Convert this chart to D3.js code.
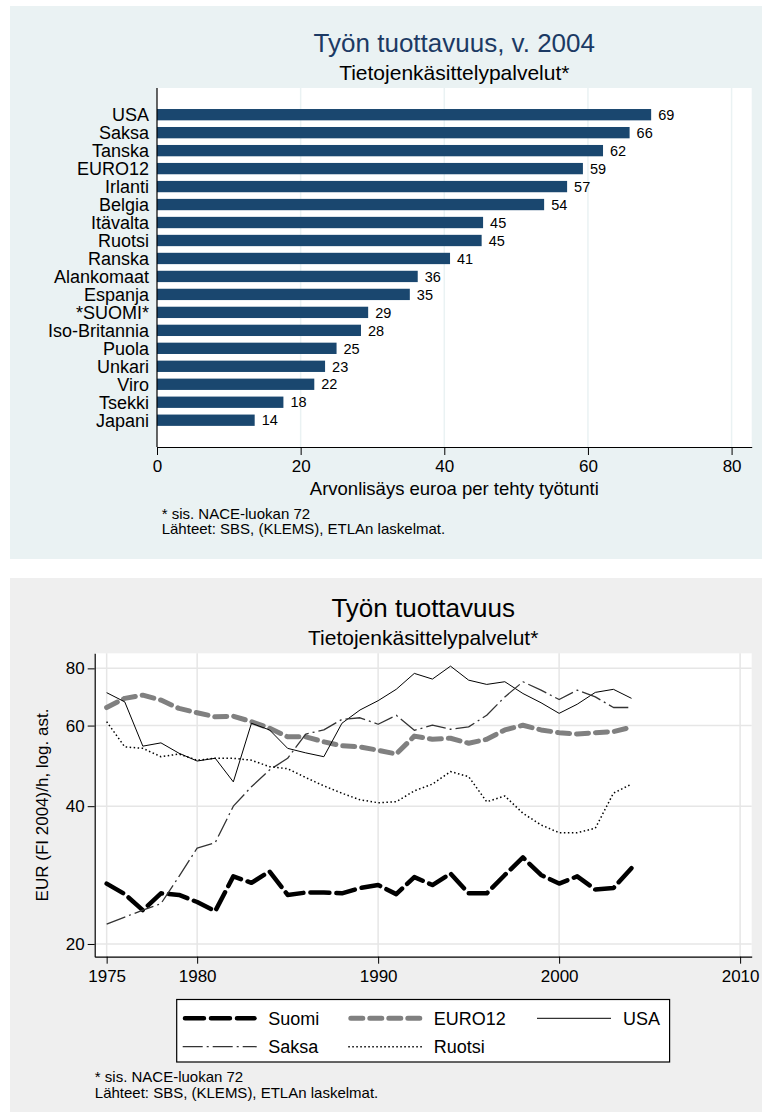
<!doctype html>
<html>
<head>
<meta charset="utf-8">
<style>
    body { margin: 0; background: #fff; }
    svg { font-family: "Liberation Sans", Arial, sans-serif; display: block; }
</style>
<script src="https://d3js.org/d3.v7.min.js"></script>
</head>
<body>
<svg width="762" height="1119"></svg>

<script>
    // --- data: top chart (2004) ---
    var countries = ["USA", "Saksa", "Tanska", "EURO12", "Irlanti", "Belgia", "Itävalta", "Ruotsi", "Ranska",
                     "Alankomaat", "Espanja", "*SUOMI*", "Iso-Britannia", "Puola", "Unkari", "Viro", "Tsekki", "Japani"];
    var values = [68.8, 65.8, 62.1, 59.3, 57.1, 53.9, 45.4, 45.2, 40.8,
                  36.3, 35.2, 29.4, 28.4, 25.0, 23.4, 21.9, 17.6, 13.6];
    var xTicksTop = [0, 20, 40, 60, 80];

    // --- data: bottom chart (time series) ---
    var years = [1975, 1976, 1977, 1978, 1979, 1980, 1981, 1982, 1983, 1984,
                 1985, 1986, 1987, 1988, 1989, 1990, 1991, 1992, 1993, 1994,
                 1995, 1996, 1997, 1998, 1999, 2000, 2001, 2002, 2003, 2004];
    var suomi  = [27.1, 25.7, 23.7, 25.8, 25.6, 24.7, 23.6, 28.1, 27.2, 28.8,
                  25.6, 25.9, 25.9, 25.8, 26.5, 26.9, 25.7, 28.0, 26.9, 28.5,
                  25.8, 25.8, 28.3, 30.9, 28.3, 27.1, 28.1, 26.3, 26.5, 29.3];
    var euro12 = [65.7, 68.8, 69.9, 68.2, 65.4, 64.0, 62.7, 62.9, 61.2, 59.2,
                  56.7, 56.7, 55.3, 54.2, 53.9, 53.0, 52.0, 56.9, 56.0, 56.3,
                  54.9, 56.0, 58.7, 60.1, 58.7, 57.9, 57.5, 57.9, 58.2, 59.5];
    var usa    = [70.8, 67.6, 54.1, 55.0, 52.2, 50.2, 50.9, 45.2, 60.7, 58.7,
                  53.5, 52.3, 51.3, 60.7, 64.9, 68.0, 72.0, 78.0, 75.8, 80.9,
                  75.4, 73.8, 74.8, 70.5, 67.3, 63.8, 66.8, 70.9, 72.0, 68.8];
    var saksa  = [22.1, 22.9, 23.7, 24.5, 28.1, 32.4, 33.3, 40.0, 44.1, 48.0,
                  50.9, 57.5, 58.7, 61.9, 62.4, 60.4, 63.2, 58.6, 60.1, 58.9,
                  59.6, 63.2, 69.3, 74.8, 71.7, 68.4, 71.7, 69.3, 65.7, 65.7];
    var ruotsi = [61.2, 53.9, 53.5, 51.3, 52.0, 50.4, 50.9, 50.9, 50.4, 48.8,
                  48.3, 46.2, 44.3, 42.7, 41.3, 40.7, 40.9, 43.2, 44.7, 47.6,
                  46.4, 40.9, 42.1, 38.6, 36.4, 35.0, 35.0, 35.8, 42.7, 44.7];
    var yearTicks = [1975, 1980, 1990, 2000, 2010];
    var logTicks = [20, 40, 60, 80];

    var series = [
        { name: "Suomi",  values: suomi,  color: "#000",    width: 4.5, dash: "19,7",      cap: "round" },
        { name: "EURO12", values: euro12, color: "#808080", width: 5,   dash: "12,7",      cap: "round" },
        { name: "USA",    values: usa,    color: "#000",    width: 1,   dash: null,        cap: "butt" },
        { name: "Saksa",  values: saksa,  color: "#333",    width: 1.3, dash: "20,4,2,4",  cap: "butt" },
        { name: "Ruotsi", values: ruotsi, color: "#000",    width: 1.5, dash: "1.5,2.5",   cap: "butt" }
    ];

    var svg = d3.select("svg");

    // ================= top chart =================
    svg.append("rect")
       .attr("x", 10).attr("y", 6).attr("width", 752).attr("height", 553)
       .attr("fill", "#eaf2f3");

    var x = d3.scaleLinear().domain([0, 82.8]).range([157, 751.7]);
    var y = d3.scaleBand().domain(countries).range([105.7, 429.2])
              .paddingInner(0.37).paddingOuter(0.185);

    svg.append("rect")
       .attr("x", 157).attr("y", 88).attr("width", 751.7 - 157).attr("height", 447 - 88)
       .attr("fill", "#fff");

    // grid
    svg.append("g").selectAll("line")
       .data(xTicksTop.slice(1))
       .enter().append("line")
       .attr("x1", function(d) { return x(d); })
       .attr("x2", function(d) { return x(d); })
       .attr("y1", 88).attr("y2", 447)
       .attr("stroke", "#eaf2f3").attr("stroke-width", 1.5);

    svg.append("g").selectAll("rect")
       .data(values)
       .enter().append("rect")
       .attr("x", x(0))
       .attr("y", function(d, i) { return y(countries[i]); })
       .attr("width", function(d) { return x(d) - x(0); })
       .attr("height", y.bandwidth())
       .attr("fill", "#1a476f");

    // value labels
    svg.append("g").selectAll("text")
       .data(values)
       .enter().append("text")
       .attr("x", function(d) { return x(d) + 7; })
       .attr("y", function(d, i) { return y(countries[i]) + y.bandwidth() / 2; })
       .attr("dy", "0.36em")
       .attr("font-size", "14.5px")
       .text(function(d) { return Math.round(d); });

    // category labels
    svg.append("g").selectAll("text")
       .data(countries)
       .enter().append("text")
       .attr("x", 149)
       .attr("y", function(d) { return y(d) + y.bandwidth() / 2; })
       .attr("dy", "0.36em")
       .attr("text-anchor", "end")
       .attr("font-size", "18px")
       .text(function(d) { return d; });

    // axes
    svg.append("line")
       .attr("x1", 157).attr("x2", 157).attr("y1", 88).attr("y2", 447)
       .attr("stroke", "#000").attr("stroke-width", 1.2);

    var xAxisTop = svg.append("g")
       .attr("transform", "translate(0,447)")
       .call(d3.axisBottom(x).tickValues(xTicksTop).tickSize(8).tickPadding(5).tickSizeOuter(0));
    xAxisTop.select(".domain").attr("stroke-width", 1.2);
    xAxisTop.selectAll("text").attr("font-size", "17px").attr("font-family", null).attr("fill", "#000");

    svg.append("text")
       .attr("x", 454.3).attr("y", 51.7)
       .attr("text-anchor", "middle")
       .attr("font-size", "26px")
       .attr("fill", "#1c3a64")
       .text("Työn tuottavuus, v. 2004");

    svg.append("text")
       .attr("x", 454.3).attr("y", 80)
       .attr("text-anchor", "middle")
       .attr("font-size", "21px")
       .text("Tietojenkäsittelypalvelut*");

    svg.append("text")
       .attr("x", 454.3).attr("y", 495)
       .attr("text-anchor", "middle")
       .attr("font-size", "18.5px")
       .text("Arvonlisäys euroa per tehty työtunti");

    svg.append("text")
       .attr("x", 161.7).attr("y", 519)
       .attr("font-size", "15px")
       .text("* sis. NACE-luokan 72");
    svg.append("text")
       .attr("x", 161.7).attr("y", 534.3)
       .attr("font-size", "15px")
       .text("Lähteet: SBS, (KLEMS), ETLAn laskelmat.");

    // ================= bottom chart =================
    svg.append("rect")
       .attr("x", 10).attr("y", 578).attr("width", 752).attr("height", 534)
       .attr("fill", "#efefef");

    var pLeft = 94.7, pRight = 751.7, pTop = 653.3, pBottom = 956.7;
    var xt = d3.scaleLinear().domain([1974.34, 2010.64]).range([pLeft, pRight]);
    var yt = d3.scaleLog().domain([18.76, 86.3]).range([pBottom, pTop]);

    svg.append("rect")
       .attr("x", pLeft).attr("y", pTop).attr("width", pRight - pLeft).attr("height", pBottom - pTop)
       .attr("fill", "#fff");

    svg.append("g").selectAll("line")
       .data(yearTicks)
       .enter().append("line")
       .attr("x1", function(d) { return xt(d); })
       .attr("x2", function(d) { return xt(d); })
       .attr("y1", pTop).attr("y2", pBottom)
       .attr("stroke", "#e6e6e6").attr("stroke-width", 1.5);

    svg.append("g").selectAll("line")
       .data(logTicks)
       .enter().append("line")
       .attr("x1", pLeft).attr("x2", pRight)
       .attr("y1", function(d) { return yt(d); })
       .attr("y2", function(d) { return yt(d); })
       .attr("stroke", "#e6e6e6").attr("stroke-width", 1.5);

    var line = d3.line()
        .x(function(d, i) { return xt(years[i]); })
        .y(function(d) { return yt(d); });

    svg.append("g").selectAll("path")
       .data(series)
       .enter().append("path")
       .attr("d", function(s) { return line(s.values); })
       .attr("fill", "none")
       .attr("stroke", function(s) { return s.color; })
       .attr("stroke-width", function(s) { return s.width; })
       .attr("stroke-dasharray", function(s) { return s.dash; })
       .attr("stroke-linecap", function(s) { return s.cap; })
       .attr("stroke-linejoin", "round");

    var xAxisB = svg.append("g")
       .attr("transform", "translate(0," + pBottom + ")")
       .call(d3.axisBottom(xt).tickValues(yearTicks).tickFormat(d3.format("d"))
             .tickSize(7).tickPadding(6).tickSizeOuter(0));
    xAxisB.select(".domain").attr("stroke-width", 1.2);
    xAxisB.selectAll("text").attr("font-size", "17px").attr("font-family", null).attr("fill", "#000");

    var yAxisB = svg.append("g")
       .attr("transform", "translate(" + pLeft + ",0)")
       .call(d3.axisLeft(yt).tickValues(logTicks).tickFormat(d3.format("d"))
             .tickSize(7).tickPadding(3).tickSizeOuter(0));
    yAxisB.select(".domain").attr("stroke-width", 1.2);
    yAxisB.selectAll("text").attr("font-size", "17px").attr("font-family", null).attr("fill", "#000");

    svg.append("text")
       .attr("transform", "translate(48," + ((pTop + pBottom) / 2) + ") rotate(-90)")
       .attr("text-anchor", "middle")
       .attr("font-size", "17px")
       .text("EUR (FI 2004)/h, log. ast.");

    svg.append("text")
       .attr("x", (pLeft + pRight) / 2).attr("y", 616.7)
       .attr("text-anchor", "middle")
       .attr("font-size", "26px")
       .text("Työn tuottavuus");

    svg.append("text")
       .attr("x", (pLeft + pRight) / 2).attr("y", 645)
       .attr("text-anchor", "middle")
       .attr("font-size", "21px")
       .text("Tietojenkäsittelypalvelut*");

    // legend
    var legendPos = [
        { x: 182.7, y: 1018.3 }, { x: 348.3, y: 1018.3 }, { x: 537, y: 1018.3 },
        { x: 182.7, y: 1046.7 }, { x: 348.3, y: 1046.7 }
    ];
    svg.append("rect")
       .attr("x", 176.7).attr("y", 999.5).attr("width", 669.6 - 176.7).attr("height", 1062 - 999.5)
       .attr("fill", "#fff").attr("stroke", "#000").attr("stroke-width", 1.2);

    var leg = svg.append("g").selectAll("g")
       .data(series)
       .enter().append("g")
       .attr("transform", function(d, i) { return "translate(" + legendPos[i].x + "," + legendPos[i].y + ")"; });
    leg.append("line")
       .attr("x1", function(s) { return s.cap === "round" ? s.width / 2 : 0; })
       .attr("x2", function(s) { return s.cap === "round" ? 74 - s.width / 2 : 74; })
       .attr("stroke", function(s) { return s.color; })
       .attr("stroke-width", function(s) { return s.width; })
       .attr("stroke-dasharray", function(s) { return s.dash; })
       .attr("stroke-linecap", function(s) { return s.cap; });
    leg.append("text")
       .attr("x", function(s) { return s.name === "USA" ? 86 : 85.5; })
       .attr("dy", "0.36em")
       .attr("font-size", "18px")
       .text(function(s) { return s.name; });

    svg.append("text")
       .attr("x", 94.8).attr("y", 1082)
       .attr("font-size", "15px")
       .text("* sis. NACE-luokan 72");
    svg.append("text")
       .attr("x", 94.8).attr("y", 1098)
       .attr("font-size", "15px")
       .text("Lähteet: SBS, (KLEMS), ETLAn laskelmat.");
</script>
</body>
</html>
